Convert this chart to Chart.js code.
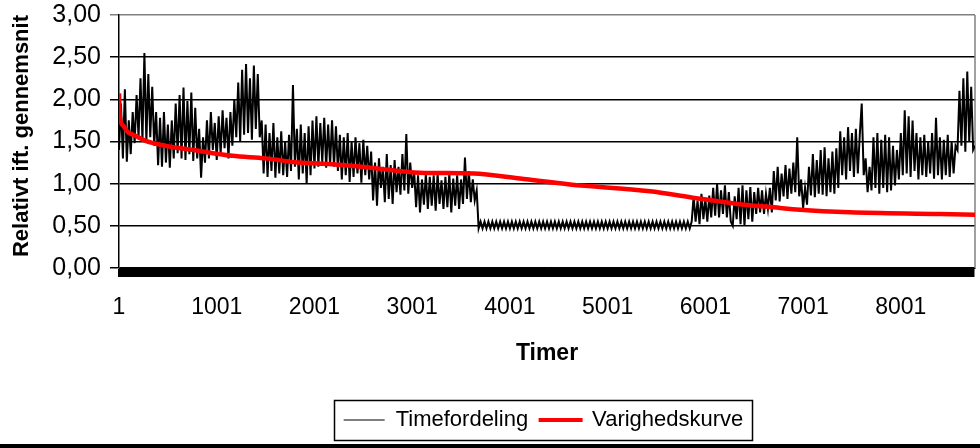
<!DOCTYPE html>
<html>
<head>
<meta charset="utf-8">
<script src="https://cdn.jsdelivr.net/npm/chart.js@4/dist/chart.umd.min.js"></script>
<style>
  body { margin: 0; background: #fff; }
  #wrap { width: 980px; height: 444px; border-bottom: 4px solid #000; }
</style>
</head>
<body>
<div id="wrap"><canvas id="timeChart" width="980" height="444"></canvas></div>
<script>
// timeværdier aflæst for hver 20. time (1, 21, 41, ...), én linje = 400 timer
const sampleStep = 20;
const timeValues = [
  1.40, 1.95, 1.30, 2.12, 1.26, 1.75, 1.35, 1.85, 1.48, 2.05, 1.55, 2.25, 1.52, 2.55, 1.50, 2.30, 1.55, 2.15, 1.45, 1.85,
  1.22, 1.78, 1.20, 1.85, 1.25, 1.70, 1.19, 1.75, 1.30, 1.95, 1.36, 2.05, 1.30, 2.14, 1.28, 1.98, 1.35, 2.08, 1.27, 1.90,
  1.30, 1.65, 1.07, 1.55, 1.25, 1.75, 1.30, 1.85, 1.40, 1.72, 1.28, 1.80, 1.35, 1.87, 1.42, 1.78, 1.30, 1.85, 1.45, 2.00,
  1.55, 2.20, 1.50, 2.35, 1.58, 2.42, 1.60, 2.25, 1.52, 2.40, 1.65, 2.30, 1.55, 1.75, 1.12, 1.70, 1.08, 1.60, 1.15, 1.72,
  1.07, 1.55, 1.12, 1.62, 1.10, 1.50, 1.08, 1.58, 1.15, 2.17, 1.20, 1.65, 1.05, 1.70, 1.12, 1.60, 1.00, 1.68, 1.10, 1.75,
  1.18, 1.80, 1.20, 1.72, 1.25, 1.78, 1.19, 1.70, 1.22, 1.75, 1.20, 1.68, 1.15, 1.58, 1.05, 1.55, 1.10, 1.60, 1.02, 1.50,
  1.08, 1.55, 1.12, 1.48, 1.01, 1.52, 1.10, 1.45, 1.05, 1.38, 0.80, 1.25, 0.74, 1.30, 0.95, 1.20, 0.78, 1.35, 0.82, 1.22,
  0.76, 1.28, 0.90, 1.20, 0.87, 1.35, 0.92, 1.59, 0.88, 1.25, 0.95, 1.15, 0.72, 1.10, 0.66, 1.05, 0.75, 1.12, 0.70, 1.08,
  0.74, 1.10, 0.68, 1.12, 0.76, 1.04, 0.70, 1.08, 0.72, 1.12, 0.66, 1.06, 0.74, 1.10, 0.70, 1.05, 0.76, 1.31, 0.82, 1.15,
  0.78, 1.05, 0.80, 0.92, 0.47, 0.55, 0.47, 0.55, 0.47, 0.55, 0.47, 0.55, 0.47, 0.55, 0.47, 0.55, 0.47, 0.55, 0.47, 0.55,
  0.47, 0.55, 0.47, 0.55, 0.47, 0.55, 0.47, 0.55, 0.47, 0.55, 0.47, 0.55, 0.47, 0.55, 0.47, 0.55, 0.47, 0.55, 0.47, 0.55,
  0.47, 0.55, 0.47, 0.55, 0.47, 0.55, 0.47, 0.55, 0.47, 0.55, 0.47, 0.55, 0.47, 0.55, 0.47, 0.55, 0.47, 0.55, 0.47, 0.55,
  0.47, 0.55, 0.47, 0.55, 0.47, 0.55, 0.47, 0.55, 0.47, 0.55, 0.47, 0.55, 0.47, 0.55, 0.47, 0.55, 0.47, 0.55, 0.47, 0.55,
  0.47, 0.55, 0.47, 0.55, 0.47, 0.55, 0.47, 0.55, 0.47, 0.55, 0.47, 0.55, 0.47, 0.55, 0.47, 0.55, 0.47, 0.55, 0.47, 0.55,
  0.47, 0.55, 0.47, 0.55, 0.47, 0.55, 0.47, 0.55, 0.47, 0.55, 0.47, 0.55, 0.47, 0.55, 0.85, 0.55, 0.80, 0.52, 0.88, 0.58,
  0.82, 0.55, 0.86, 0.60, 0.95, 0.62, 1.00, 0.60, 0.92, 0.64, 0.98, 0.60, 0.90, 0.55, 0.50, 0.85, 0.58, 0.95, 0.52, 0.98,
  0.50, 0.92, 0.58, 0.96, 0.55, 0.90, 0.64, 0.95, 0.66, 0.92, 0.64, 0.88, 0.70, 0.95, 0.66, 1.15, 0.80, 1.20, 0.79, 1.12,
  0.85, 1.22, 0.82, 1.18, 0.88, 1.25, 0.90, 1.55, 0.85, 1.05, 0.71, 0.95, 0.75, 1.20, 0.86, 1.35, 0.84, 1.28, 0.88, 1.40,
  0.87, 1.43, 0.85, 1.30, 0.90, 1.38, 0.88, 1.42, 0.95, 1.62, 1.10, 1.55, 1.05, 1.67, 1.15, 1.60, 1.08, 1.65, 1.12, 1.58,
  1.95, 1.10, 1.30, 0.90, 1.20, 0.92, 1.55, 0.95, 1.60, 0.88, 1.52, 0.95, 1.58, 0.90, 1.55, 0.92, 1.45, 0.98, 1.40, 1.05,
  1.60, 1.10, 1.87, 1.12, 1.80, 1.08, 1.75, 1.15, 1.60, 1.05, 1.55, 1.10, 1.58, 1.08, 1.50, 1.12, 1.60, 1.06, 1.78, 1.10,
  1.55, 1.05, 1.52, 1.10, 1.58, 1.08, 1.50, 1.12, 1.45, 1.40, 2.10, 1.45, 2.25, 1.38, 2.33, 1.50, 2.15, 1.40, 1.45
];

// varighedskurve (sorterede værdier)
const durHours  = [1, 10, 42, 93, 165, 267, 472, 810, 1160, 1500, 1835, 2180, 2570, 3080, 3625, 4105, 4615, 5435, 5845, 6326, 6695, 6970, 7482, 8403, 8760];
const durValues = [2.07, 1.79, 1.69, 1.61, 1.57, 1.51, 1.45, 1.39, 1.33, 1.30, 1.25, 1.23, 1.19, 1.13, 1.12, 1.06, 0.99, 0.91, 0.84, 0.76, 0.72, 0.69, 0.66, 0.64, 0.63];

const xTickLabels = [1, 1001, 2001, 3001, 4001, 5001, 6001, 7001, 8001];
const totalHours = 8760;

const FONT = "'Liberation Sans', Arial, sans-serif";

const timePoints = timeValues.map((v, i) => ({ x: Math.min(1 + i * sampleStep, totalHours), y: v }));
const durPoints = durValues.map((v, i) => ({ x: durHours[i], y: v }));

// ramme om plotområdet (grå) og om forklaringen (sort)
const frames = {
  id: 'frames',
  afterLayout(chart) {
    // forklaringen står lidt til højre for midten
    chart.legend.left += 56;
    chart.legend.right += 56;
  },
  beforeDatasetsDraw(chart) {
    const { ctx, chartArea } = chart;
    ctx.save();
    ctx.strokeStyle = '#808080';
    ctx.lineWidth = 1.5;
    ctx.beginPath();
    ctx.moveTo(chartArea.right, chartArea.top);
    ctx.lineTo(chartArea.right, chartArea.bottom);
    ctx.stroke();
    ctx.restore();
  },
  afterDraw(chart) {
    const boxes = chart.legend.legendHitBoxes;
    if (!boxes || !boxes.length) return;
    const l = Math.min(...boxes.map(b => b.left)) - 10;
    const r = Math.max(...boxes.map(b => b.left + b.width)) + 8;
    const t = Math.min(...boxes.map(b => b.top)) - 9;
    const btm = Math.max(...boxes.map(b => b.top + b.height)) + 9;
    const ctx = chart.ctx;
    ctx.save();
    ctx.strokeStyle = '#000';
    ctx.lineWidth = 1.5;
    ctx.strokeRect(Math.round(l) + 0.5, Math.round(t) + 0.5, Math.round(r - l), Math.round(btm - t));
    ctx.restore();
  }
};

const config = {
  type: 'line',
  data: {
    datasets: [
      {
        label: 'Timefordeling',
        data: timePoints,
        borderColor: '#000',
        backgroundColor: '#000',
        borderWidth: 2,
        pointRadius: 0,
        tension: 0,
        order: 2
      },
      {
        label: 'Varighedskurve',
        data: durPoints,
        borderColor: '#ff0000',
        backgroundColor: '#ff0000',
        borderWidth: 4.5,
        pointRadius: 0,
        cubicInterpolationMode: 'monotone',
        order: 1
      }
    ]
  },
  options: {
    responsive: false,
    animation: false,
    layout: { padding: { left: 0, right: 5, top: 15, bottom: 3 } },
    plugins: {
      tooltip: { enabled: false },
      legend: {
        position: 'bottom',
        labels: {
          color: '#000',
          font: { family: FONT, size: 22 },
          boxWidth: 41,
          boxHeight: 1,
          padding: 12,
          sort: (a, b) => a.datasetIndex - b.datasetIndex,
          generateLabels(chart) {
            const items = Chart.defaults.plugins.legend.labels.generateLabels(chart);
            return items.map(it => ({ ...it, lineWidth: it.datasetIndex === 0 ? 0 : 3 }));
          }
        }
      }
    },
    scales: {
      x: {
        type: 'linear',
        min: 1,
        max: totalHours,
        afterBuildTicks(scale) {
          // tæt række af tick-mærker (hver 10. time) langs kategoriaksen
          const ticks = [];
          for (let h = 1; h <= totalHours; h += 10) ticks.push({ value: h });
          scale.ticks = ticks;
        },
        afterFit(scale) {
          scale.height = 129;
          scale.paddingLeft = 0;
          scale.paddingRight = 0;
        },
        grid: {
          drawOnChartArea: false,
          drawTicks: true,
          tickLength: 9,
          color: '#000',
          lineWidth: 1.5
        },
        border: { display: true, color: '#000', width: 1 },
        ticks: {
          autoSkip: false,
          maxRotation: 0,
          minRotation: 0,
          padding: 17,
          color: '#000',
          font: { family: FONT, size: 23 },
          callback: (v) => xTickLabels.includes(v) ? String(v) : ''
        },
        title: {
          display: true,
          text: 'Timer',
          color: '#000',
          font: { family: FONT, size: 23, weight: 'bold' },
          padding: { top: 0, bottom: 30 }
        }
      },
      y: {
        min: 0,
        max: 3,
        afterFit(scale) {
          scale.width = 119;
          scale.paddingTop = 0;
          scale.paddingBottom = 0;
        },
        grid: {
          color: (c) => c.tick && c.tick.value === 3 ? '#808080' : '#000',
          lineWidth: 1.5,
          tickLength: 9,
          drawTicks: true
        },
        border: { display: true, color: '#000', width: 1.5 },
        ticks: {
          stepSize: 0.5,
          padding: 9,
          color: '#000',
          font: { family: FONT, size: 25 },
          callback: (v) => v.toFixed(2).replace('.', ',')
        },
        title: {
          display: true,
          align: 'end',
          text: 'Relativt ift. gennemsnit',
          color: '#000',
          font: { family: FONT, size: 22, weight: 'bold' },
          padding: { top: 9, bottom: 0 }
        }
      }
    }
  },
  plugins: [frames]
};

const chart = new Chart(document.getElementById('timeChart'), config);
</script>
</body>
</html>
